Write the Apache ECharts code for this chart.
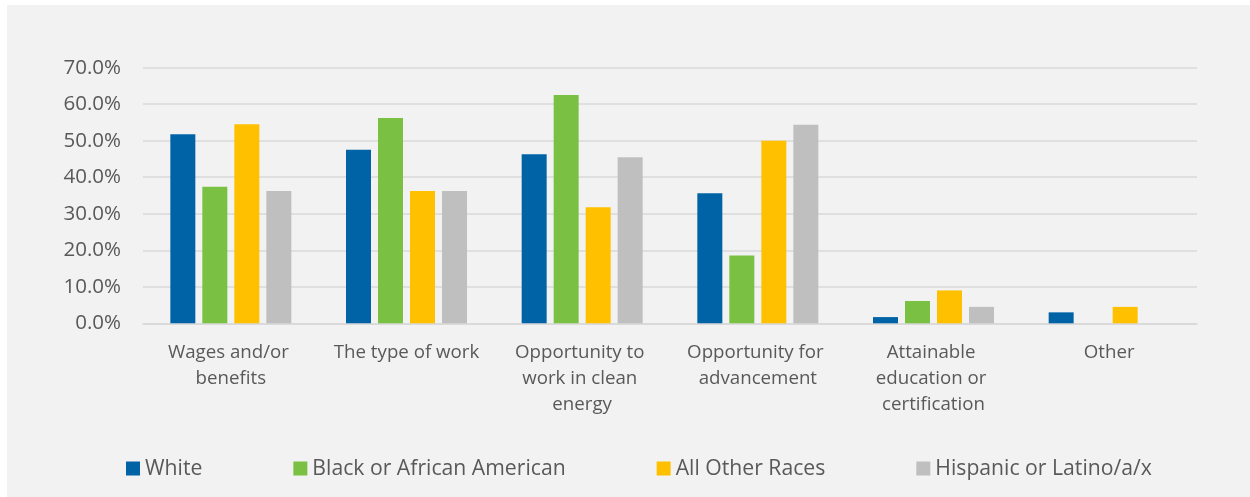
<!DOCTYPE html>
<html>
<head>
<meta charset="utf-8">
<script src="https://cdn.jsdelivr.net/npm/echarts@6/dist/echarts.min.js"></script>
<style>
  html, body { margin: 0; padding: 0; background: #ffffff; }
  #chart { width: 1250px; height: 497px; }
</style>
</head>
<body>
<div id="chart"></div>
<script>
const categories = [
  'Wages and/or benefits',
  'The type of work',
  'Opportunity to work in clean energy',
  'Opportunity for advancement',
  'Attainable education or certification',
  'Other'
];
const seriesNames = ['White', 'Black or African American', 'All Other Races', 'Hispanic or Latino/a/x'];
const white = [51.8, 47.5, 46.3, 35.6, 1.7, 3.0];
const black = [37.4, 56.2, 62.5, 18.6, 6.1, 0];
const otherRaces = [54.5, 36.2, 31.8, 50.0, 9.0, 4.5];
const hispanic = [36.2, 36.2, 45.5, 54.4, 4.5, 0];
const colors = ['#0063A6', '#7AC143', '#FFC000', '#BFBFBF'];
const yTicks = [0, 10, 20, 30, 40, 50, 60, 70];

const seriesData = [white, black, otherRaces, hispanic];
const font = '"Open Sans", "DejaVu Sans", sans-serif';

const chart = echarts.init(document.getElementById('chart'), null, { renderer: 'canvas' });
chart.setOption({
  animation: false,
  textStyle: { fontFamily: font },
  graphic: [{
    type: 'rect',
    z: -10,
    silent: true,
    shape: { x: 7, y: 5, width: 1243, height: 492 },
    style: { fill: '#F2F2F2' }
  }],
  grid: { left: 143, right: 53, top: 67.7, bottom: 173.7, containLabel: false },
  legend: {
    data: seriesNames,
    left: 121,
    top: 453,
    icon: 'rect',
    itemWidth: 14,
    itemHeight: 14,
    itemGap: 91,
    textStyle: { fontSize: 21.2, color: '#595959', fontFamily: font }
  },
  xAxis: {
    type: 'category',
    data: categories,
    axisLine: { show: true, lineStyle: { color: '#D9D9D9', width: 1.5 } },
    axisTick: { show: false },
    axisLabel: {
      interval: 0,
      margin: 16,
      fontSize: 18.7,
      lineHeight: 26,
      color: '#595959',
      width: 162,
      overflow: 'break',
      fontFamily: font
    }
  },
  yAxis: {
    type: 'value',
    min: yTicks[0],
    max: yTicks[yTicks.length - 1],
    interval: 10,
    axisLine: { show: false },
    axisTick: { show: false },
    splitLine: { lineStyle: { color: '#D9D9D9', width: 1.5 } },
    axisLabel: {
      margin: 22,
      fontSize: 20.5,
      color: '#595959',
      fontFamily: font,
      formatter: v => v.toFixed(1) + '%'
    }
  },
  series: seriesNames.map((name, i) => ({
    name,
    type: 'bar',
    data: seriesData[i],
    barWidth: 25,
    barGap: '28%',
    itemStyle: { color: colors[i] }
  }))
});
</script>
</body>
</html>
